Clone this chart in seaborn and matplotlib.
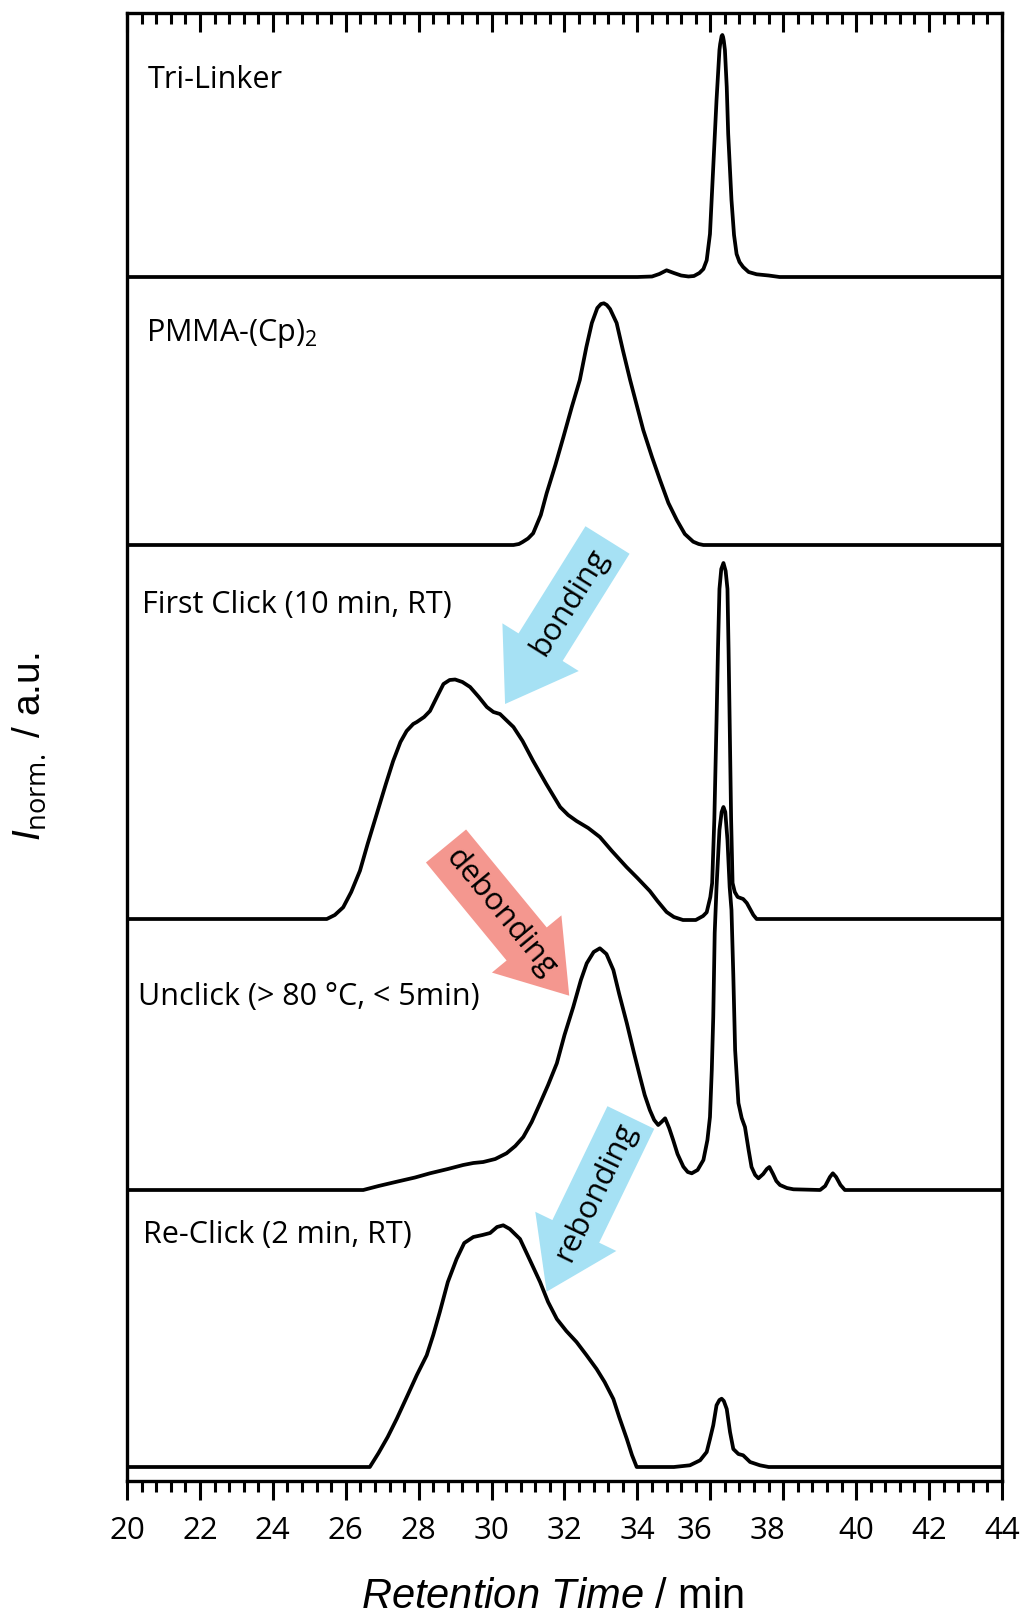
import matplotlib
matplotlib.use("Agg")
import matplotlib.pyplot as plt
import numpy as np
import pandas as pd
import seaborn as sns
from matplotlib.ticker import MultipleLocator
from matplotlib.transforms import ScaledTranslation

# ---- SEC traces: retention time (min) and detector response (a.u.) ----
tri_t = [20.0, 34.0, 34.4, 34.6, 34.8, 35.0, 35.2, 35.4, 35.55, 35.7, 35.81, 35.9,
         35.99, 36.08, 36.17, 36.25, 36.27, 36.31, 36.33, 36.35, 36.37, 36.40, 36.45,
         36.49, 36.58, 36.65, 36.72, 36.80, 36.90, 37.05, 37.27, 37.6, 37.9, 44.0]
tri_i = [0, 0, 0.5, 3, 6.7, 4, 1.5, 0.5, 1, 4, 8, 16.7,
         43, 110, 177, 227, 233, 241, 242, 240, 236, 227, 190,
         143, 77, 42, 23, 15, 10, 5, 2.7, 1.5, 0, 0]

pmma_t = [20.0, 30.6, 30.75, 30.85, 31.0, 31.14, 31.35, 31.51, 31.75, 31.97, 32.2,
          32.42, 32.6, 32.75, 32.9, 33.0, 33.08, 33.16, 33.25, 33.43, 33.6, 33.8,
          33.98, 34.16, 34.4, 34.62, 34.85, 35.08, 35.3, 35.53, 35.68, 35.81, 44.0]
pmma_i = [0, 0, 1, 3, 6.5, 11.7, 30, 51.7, 80, 108, 138,
          165, 198, 222, 237, 241, 241.7, 240, 236, 222, 195, 165,
          140, 115, 88, 65, 42, 25, 11, 3.3, 1, 0, 0]

click_t = [20.0, 25.48, 25.7, 25.93, 26.15, 26.39, 26.6, 26.85, 27.1, 27.3, 27.5,
           27.67, 27.85, 27.95, 28.15, 28.31, 28.5, 28.68, 28.85, 29.0, 29.2, 29.41,
           29.65, 29.87, 30.05, 30.23, 30.4, 30.6, 30.85, 31.14, 31.5, 31.88, 32.1,
           32.33, 32.65, 32.97, 33.3, 33.7, 34.0, 34.34, 34.55, 34.8, 35.0, 35.25,
           35.6, 35.8, 35.9, 36.0, 36.05, 36.11, 36.17, 36.21, 36.25, 36.3, 36.36,
           36.42, 36.47, 36.5, 36.53, 36.57, 36.61, 36.67, 36.75, 36.9, 37.0, 37.09,
           37.18, 37.27, 44.0]
click_i = [0, 0, 4, 11.7, 27, 48.3, 75, 105, 135, 158, 177,
           188, 195, 197, 202, 208, 222, 235, 239, 239.5, 237, 232,
           222, 212, 207, 205, 199, 192, 178, 158, 135, 112, 104,
           98, 91, 82, 68, 52, 41, 28, 18, 7, 2, -1,
           -1, 3, 6.7, 22, 36, 100, 198, 270, 330, 350, 356,
           348, 330, 270, 198, 100, 36, 27, 22, 20, 16, 10,
           4, 0, 0]

unclick_t = [20.0, 26.48, 26.9, 27.4, 27.9, 28.31, 28.8, 29.22, 29.5, 29.77, 30.1,
             30.41, 30.65, 30.87, 31.1, 31.33, 31.55, 31.79, 32.0, 32.24, 32.45,
             32.61, 32.8, 32.97, 33.15, 33.34, 33.5, 33.71, 33.9, 34.07, 34.2, 34.34,
             34.46, 34.57, 34.66, 34.76, 34.87, 34.98, 35.1, 35.26, 35.38, 35.49,
             35.65, 35.81, 35.92, 35.99, 36.04, 36.08, 36.12, 36.17, 36.25, 36.31,
             36.36, 36.41, 36.47, 36.53, 36.58, 36.63, 36.68, 36.77, 36.86, 36.95,
             37.05, 37.13, 37.23, 37.32, 37.45, 37.55, 37.62, 37.72, 37.81, 37.91,
             38.1, 38.28, 39.01, 39.15, 39.28, 39.36, 39.45, 39.57, 39.69, 44.0]
unclick_i = [0, 0, 4, 8.3, 12.5, 16.7, 21, 25, 27, 28, 31,
             36.7, 44, 53, 68, 86.7, 105, 126.7, 155, 183, 210,
             226.7, 238, 241.7, 236, 220, 196, 166.7, 138, 113.3, 95, 80,
             70, 65, 68, 71.7, 62, 50, 36, 23.3, 18, 16.7,
             20, 30, 50, 73, 120, 173, 257, 303, 360, 378,
             383, 378, 350, 303, 280, 215, 140, 87, 72, 63,
             40, 23, 15, 11.7, 16, 21, 23, 16, 9, 5,
             2, 0.7, 0, 4, 13, 16.7, 13, 5, 0, 0]

reclick_t = [20.0, 26.66, 26.9, 27.15, 27.4, 27.7, 27.95, 28.22, 28.4, 28.58, 28.8,
             29.04, 29.25, 29.5, 29.75, 29.96, 30.15, 30.32, 30.5, 30.78, 31.05,
             31.33, 31.55, 31.79, 32.05, 32.33, 32.6, 32.88, 33.1, 33.34, 33.5,
             33.71, 33.85, 33.98, 35.0, 35.44, 35.72, 35.9, 35.99, 36.08, 36.17,
             36.25, 36.31, 36.37, 36.45, 36.54, 36.63, 36.77, 36.9, 37.09, 37.36,
             37.6, 44.0]
reclick_i = [0, 0, 14, 30, 48.3, 72, 92, 111.7, 132, 155, 185,
             208, 224, 230, 232, 234, 240, 241.7, 238, 228, 207,
             185, 165, 148, 136, 125, 112, 98, 85, 68, 50,
             28, 12, 0, 0, 1.7, 6.7, 15, 28, 41.7, 61.7,
             67, 68.3, 66, 58, 35, 18, 13, 11.7, 5, 1.7,
             0, 0]

sample_names = ["Tri-Linker", "PMMA-(Cp)$_2$", "First Click (10 min, RT)",
                "Unclick (> 80 °C, < 5min)", "Re-Click (2 min, RT)"]
sample_times = [tri_t, pmma_t, click_t, unclick_t, reclick_t]
sample_signals = [tri_i, pmma_i, click_i, unclick_i, reclick_i]

x_ticks = [20, 22, 24, 26, 28, 30, 32, 34, 36, 38, 40, 42, 44]

# ---- layout: vertical stacking offsets and label anchors ----
offsets = [1204, 936, 562, 291, 14]
label_x = [20.576, 20.52, 20.425, 20.31, 20.43]
label_y = [1392.7, 1140.3, 867.7, 476.0, 238.3]

frames = []
for name, t, s, off in zip(sample_names, sample_times, sample_signals, offsets):
    frames.append(pd.DataFrame({"t": t, "signal": np.asarray(s, float) + off,
                                "sample": name}))
df = pd.concat(frames, ignore_index=True)

sns.set_theme(style="ticks")
plt.rcParams["font.family"] = ["Open Sans", "DejaVu Sans"]
plt.rcParams["mathtext.fontset"] = "custom"
plt.rcParams["mathtext.rm"] = "Open Sans"
plt.rcParams["mathtext.sf"] = "Open Sans"
plt.rcParams["mathtext.it"] = "Liberation Sans:italic"
plt.rcParams["mathtext.bf"] = "Open Sans:bold"

fig = plt.figure(figsize=(10.24, 16.19), dpi=100)
ax = fig.add_axes([127 / 1024, 1 - 1481 / 1619, 875 / 1024, 1468 / 1619])

sns.lineplot(data=df, x="t", y="signal", units="sample", estimator=None,
             sort=False, color="black", linewidth=2.7, ax=ax, legend=False)
for line in ax.get_lines():
    line.set_solid_joinstyle("round")
    line.set_solid_capstyle("butt")

ax.set_xlim(20, 44)
ax.set_ylim(0, 1468)
ax.set_yticks([])

for name, lx, ly in zip(sample_names, label_x, label_y):
    ax.text(lx, ly, name, fontsize=22, ha="left", va="baseline", color="black")

# reaction arrows: (tail x, tail y, tip x, tip y, colour, word, text x, text y, angle)
arrows = [
    (33.18, 941.0, 30.37, 777.0, "#a6e1f4", "bonding", 32.15, 879.3, 58.0),
    (28.75, 635.0, 32.13, 485.3, "#f4978f", "debonding", 30.25, 568.5, -50.5),
    (33.82, 363.5, 31.51, 189.3, "#a6e1f4", "rebonding", 32.86, 289.0, 64.2),
]
for tx, ty, hx, hy, col, word, wx, wy, ang in arrows:
    ax.annotate("", xy=(hx, hy), xytext=(tx, ty), xycoords="data",
                arrowprops=dict(arrowstyle="simple,head_length=0.67,head_width=0.9,tail_width=0.52",
                                mutation_scale=72, fc=col, ec="none", lw=0,
                                shrinkA=0, shrinkB=0), zorder=1)
    ax.text(wx, wy, word, fontsize=22.5, rotation=ang, rotation_mode="anchor",
            ha="center", va="center", color="black", zorder=3)

for side in ["left", "right", "top", "bottom"]:
    ax.spines[side].set_linewidth(2.4)
    ax.spines[side].set_color("black")

ax.xaxis.set_major_locator(MultipleLocator(2))
ax.xaxis.set_minor_locator(MultipleLocator(0.4))
ax.set_xticks(x_ticks, labels=[str(v) for v in x_ticks])
ax.tick_params(axis="x", which="both", top=True, bottom=True, width=2.2,
               color="black", labelsize=22.5, labelcolor="black", direction="out")
ax.tick_params(axis="x", which="major", length=14, pad=11)
ax.tick_params(axis="x", which="minor", length=8)
# top ticks point inward while bottom ticks point outward
for tick in ax.xaxis.get_major_ticks() + ax.xaxis.get_minor_ticks():
    tick.tick2line.set_marker(3)

for lab in ax.get_xticklabels():
    if lab.get_text() in ("36", "38"):
        lab.set_transform(lab.get_transform() +
                          ScaledTranslation(-0.16, 0, fig.dpi_scale_trans))

ax.set_xlabel(r"$\mathit{Retention\ Time}$ / min", fontsize=30,
              family=["Liberation Sans", "DejaVu Sans"], color="black")
ax.xaxis.label.set_va("baseline")
ax.xaxis.set_label_coords(0.486, -0.0865)
ax.set_ylabel(r"$\mathit{I}_{\mathsf{norm.}}$ / a.u.", fontsize=28,
              family=["Liberation Sans", "DejaVu Sans"], color="black")
ax.yaxis.set_label_coords(-0.111, 0.5)
ax.yaxis.label.set_va("center")

fig.savefig("out.png", dpi=100, facecolor="white")
